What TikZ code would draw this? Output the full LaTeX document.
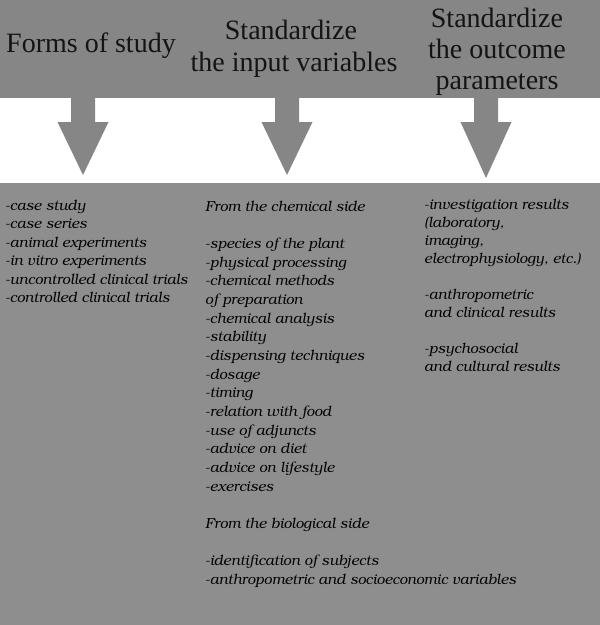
\documentclass[tikz,border=0pt]{standalone}
\usepackage[T1]{fontenc}
\usepackage{fontspec}
\setmainfont{Liberation Serif}
\newcommand{\bodyfont}{\fontencoding{T1}\fontfamily{pbk}\fontseries{m}\fontshape{it}\fontsize{14.5}{18}\selectfont}
\definecolor{topgray}{RGB}{134,134,134}
\definecolor{lowgray}{RGB}{142,142,142}
\tikzset{
  head/.style={anchor=base, inner sep=0pt, font=\fontsize{28}{30}\selectfont, text=black!92},
  body/.style={anchor=base west, inner sep=0pt, font=\bodyfont, text=black},
  blockarrow/.style={fill=topgray, draw=none}
}
\begin{document}
\begin{tikzpicture}[x=1pt,y=-1pt]
\useasboundingbox (0,0) rectangle (600,625);
% bands
\fill[topgray] (0,0) rectangle (600,98);
\fill[white] (0,98) rectangle (600,183);
\fill[lowgray] (0,183) rectangle (600,625);
% block arrows
\foreach \cx/\tip [count=\k] in {83/175, 287/175, 486/178}{
  \coordinate (tip\k) at (\cx,\tip);
  \fill[blockarrow] (\cx-12,97) -- (\cx+12,97) -- (\cx+12,122) -- (\cx+25.5,122)
    -- (tip\k) -- (\cx-25.5,122) -- (\cx-12,122) -- cycle;
}
% headers
\node[head] (h1) at (91,52) {Forms of study};
\node[head] (h2a) at (291,39) {Standardize};
\node[head] (h2b) at (294,71) {the input variables};
\node[head] (h3a) at (497,27) {Standardize};
\node[head] (h3b) at (497,58) {the outcome};
\node[head] (h3c) at (497,89) {parameters};
% column 1
\foreach \t [count=\i] in {-case study, -case series, -animal experiments, -in vitro experiments, -uncontrolled clinical trials, -controlled clinical trials}
  \node[body] (a\i) at (5,{210+(\i-1)*18.5}) {\t};
% column 2
\foreach \t [count=\i] in {From the chemical side, {}, -species of the plant, -physical processing, -chemical methods, of preparation, -chemical analysis, -stability, -dispensing techniques, -dosage, -timing, -relation with food, -use of adjuncts, -advice on diet, -advice on lifestyle, -exercises, {}, From the biological side, {}, -identification of subjects, -anthropometric and socioeconomic variables}
  \node[body] (b\i) at (205,{211+(\i-1)*18.67}) {\t};
% column 3
\foreach \t [count=\i] in {-investigation results, {(laboratory,}, {imaging,}, {electrophysiology, etc.)}, {}, -anthropometric, and clinical results, {}, -psychosocial, and cultural results}
  \node[body] (c\i) at (424,{209+(\i-1)*18.1}) {\t};
\end{tikzpicture}
\end{document}
